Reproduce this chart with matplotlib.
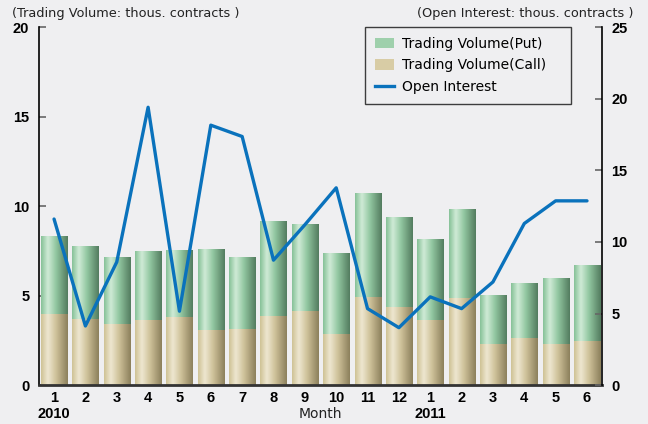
import numpy as np
import matplotlib.pyplot as plt
from matplotlib.colors import LinearSegmentedColormap
from matplotlib.patches import Patch
from matplotlib.lines import Line2D

# data (thous. contracts)
months = ['1', '2', '3', '4', '5', '6', '7', '8', '9', '10', '11', '12',
          '1', '2', '3', '4', '5', '6']
vol_call = [3.98, 3.69, 3.42, 3.65, 3.80, 3.09, 3.14, 3.87, 4.15, 2.87, 4.93, 4.37,
            3.65, 4.88, 2.31, 2.64, 2.31, 2.48]
vol_total = [8.28, 7.73, 7.11, 7.50, 7.50, 7.61, 7.11, 9.12, 8.96, 7.39, 10.70, 9.34,
             8.17, 9.80, 4.99, 5.66, 5.94, 6.67]
vol_put = [t - c for t, c in zip(vol_total, vol_call)]
open_interest = [11.6, 4.14, 8.6, 19.4, 5.17, 18.15, 17.36, 8.73, 11.2, 13.78, 5.35, 4.02,
                 6.17, 5.35, 7.21, 11.29, 12.87, 12.87]

BG = '#efeff1'
put_cmap = LinearSegmentedColormap.from_list(
    'put', [(0, '#86c197'), (0.25, '#d0ebd7'), (0.55, '#93c8a2'), (1, '#537c5f')])
call_cmap = LinearSegmentedColormap.from_list(
    'call', [(0, '#cfc295'), (0.25, '#eee7d1'), (0.55, '#d0c39b'), (1, '#8c805c')])
line_color = '#0a72bc'

bold_font = dict(family='Liberation Sans', fontweight='bold', fontsize=10.5)
grad = np.linspace(0, 1, 64).reshape(1, -1)


def gradient_bar(ax, x, bottom, height, width, cmap):
    ax.imshow(grad, cmap=cmap, aspect='auto', interpolation='bicubic',
              extent=(x - width / 2, x + width / 2, bottom, bottom + height),
              zorder=2)


fig = plt.figure(figsize=(6.48, 4.24), dpi=100, facecolor=BG)
ax = fig.add_axes([0.0602, 0.0913, 0.8684, 0.845])
ax.set_facecolor(BG)

x = np.arange(len(months))
w = 0.83
for i in x:
    gradient_bar(ax, i, 0, vol_call[i], w, call_cmap)
    gradient_bar(ax, i, vol_call[i], vol_put[i], w, put_cmap)

ax.set_xlim(-0.48, len(months) - 0.53)
ax.set_ylim(0, 20)
ax.set_yticks([0, 5, 10, 15, 20])
ax.set_xticks(x)
ax.set_xticklabels(months)
ax.tick_params(axis='y', direction='in', length=5, width=1.2, color='#666666', pad=7)
ax.tick_params(axis='x', length=0, pad=4)
for lab in ax.get_yticklabels() + ax.get_xticklabels():
    lab.set(**bold_font)
ax.spines['top'].set_visible(False)
ax.spines['right'].set_visible(False)
ax.spines['left'].set_linewidth(1.2)
ax.spines['bottom'].set_linewidth(2)
ax.spines['bottom'].set_color('#333333')
ax.spines['bottom'].set_zorder(5)

ax2 = ax.twinx()
ax2.plot(x, open_interest, color=line_color, lw=2.4, solid_joinstyle='round',
         solid_capstyle='round', zorder=4)
ax2.set_ylim(0, 25)
ax2.set_yticks([0, 5, 10, 15, 20, 25])
ax2.tick_params(axis='y', direction='in', length=5, width=1.2, color='#666666', pad=7)
for lab in ax2.get_yticklabels():
    lab.set(**bold_font)
for s in ['top', 'left', 'bottom']:
    ax2.spines[s].set_visible(False)
ax2.spines['right'].set_linewidth(1.2)

# second row of x labels
ax.text(0, -0.08, '2010', transform=ax.get_xaxis_transform(), ha='center', va='center',
        **bold_font)
ax.text(12, -0.08, '2011', transform=ax.get_xaxis_transform(), ha='center', va='center',
        **bold_font)
ax.text(8.5, -0.08, 'Month', transform=ax.get_xaxis_transform(), ha='center',
        va='center', fontsize=10, color='#222222')

fig.text(0.018, 0.967, '(Trading Volume: thous. contracts )',
         ha='left', va='center', fontsize=9.3, color='#222222')
fig.text(0.978, 0.967, '(Open Interest: thous. contracts )',
         ha='right', va='center', fontsize=9.3, color='#222222')

handles = [Patch(facecolor='#9fd0ac', edgecolor='none'),
           Patch(facecolor='#d8cca5', edgecolor='none'),
           Line2D([0], [0], color=line_color, lw=2.4)]
labels = ['Trading Volume(Put)', 'Trading Volume(Call)', 'Open Interest']
leg = ax2.legend(handles, labels, loc='upper left', bbox_to_anchor=(0.579, 0, 0.367, 1.0),
                 mode='expand', borderaxespad=0, frameon=True, fancybox=False, fontsize=10,
                 handlelength=1.4, handleheight=0.8, borderpad=0.7, labelspacing=0.55,
                 handletextpad=0.6)
leg.get_frame().set_edgecolor('#111111')
leg.get_frame().set_facecolor(BG)
leg.get_frame().set_linewidth(1)

fig.savefig('out.png', dpi=100, facecolor=BG)
